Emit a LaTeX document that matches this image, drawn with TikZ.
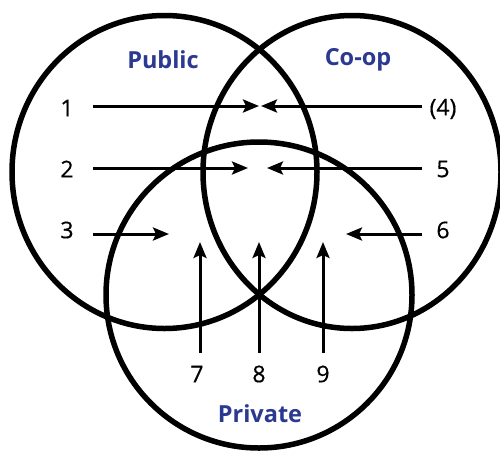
\documentclass[tikz,border=0pt]{standalone}
\usepackage{fontspec}
\setmainfont{Open Sans}
\newfontfamily\numfont[FakeBold=0.5]{Open Sans}
\usetikzlibrary{arrows.meta}
\definecolor{navy}{HTML}{2B3990}
\begin{document}
\begin{tikzpicture}[x=1pt,y=-1pt,
  ring/.style={line width=5.5pt},
  arr/.style={line width=3pt,-{Stealth[length=16pt,width=13pt,inset=3pt]}},
  num/.style={font=\numfont\fontsize{23}{27}\selectfont,inner sep=0pt},
  title/.style={font=\fontsize{23.5}{28}\selectfont\bfseries,text=navy,inner sep=0pt}]
\useasboundingbox (0,0) rectangle (500,453);
\draw[ring] (164.5,172) ellipse [x radius=152.5, y radius=156.5];
\draw[ring] (352,172) ellipse [x radius=149, y radius=156.5];
\draw[ring] (259,295) ellipse [x radius=153, y radius=153];
\node[title] (pub) at (163,60) {Public};
\node[title] (coop) at (358,60) {Co-op};
\node[title] (priv) at (260,414) {Private};
\node[num] (n1) at (67,108) {1};
\node[num] (n2) at (67,169) {2};
\node[num] (n3) at (67,230) {3};
\node[num] (n4) at (443,109) {(4)};
\node[num] (n5) at (443,169) {5};
\node[num] (n6) at (443,230) {6};
\node[num] (n7) at (197,374) {7};
\node[num] (n8) at (259,374) {8};
\node[num] (n9) at (323,374) {9};
\coordinate (s1) at (93,106); \coordinate (t1) at (259,106);
\coordinate (s2) at (93,168); \coordinate (t2) at (248,168);
\coordinate (s3) at (93,234); \coordinate (t3) at (169,234);
\coordinate (s4) at (422,106); \coordinate (t4) at (261,106);
\coordinate (s5) at (422,168); \coordinate (t5) at (267,168);
\coordinate (s6) at (422,234); \coordinate (t6) at (346,234);
\coordinate (s7) at (200,353); \coordinate (t7) at (200,242);
\coordinate (s8) at (259,353); \coordinate (t8) at (259,242);
\coordinate (s9) at (323,353); \coordinate (t9) at (323,242);
\foreach \i in {1,...,9} {\draw[arr] (s\i) -- (t\i);}
\end{tikzpicture}
\end{document}
